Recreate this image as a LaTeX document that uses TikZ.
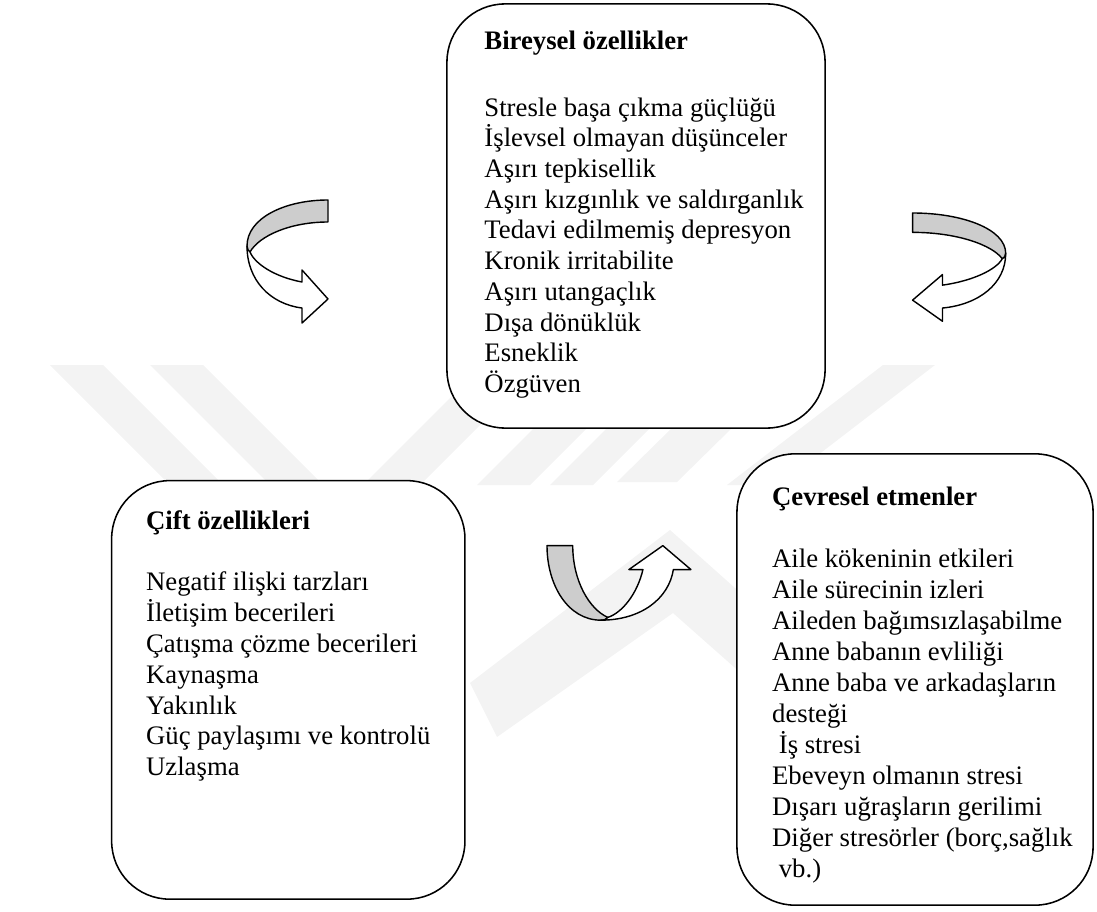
\documentclass[tikz,border=0pt]{standalone}
\usepackage{fontspec}
\setmainfont{Liberation Serif}
\usetikzlibrary{calc}
\definecolor{ribbongray}{HTML}{CDCDCD}
\definecolor{markgray}{HTML}{F3F3F3}
\tikzset{
  box/.style={draw, rectangle, rounded corners=1.45cm, line width=1.1pt, fill=white},
  head/.style={font=\fontsize{19}{22}\selectfont\bfseries, anchor=base west, inner sep=0pt},
  item/.style={font=\fontsize{19}{22}\selectfont, anchor=base west, inner sep=0pt},
  ribbon/.pic={
    \filldraw[fill=ribbongray, line width=1pt] (83,0) .. controls (40,0) and (2,18) .. (2,46)
      .. controls (2,49) and (3,51) .. (5,52) .. controls (14,36) and (45,22) .. (83,22) -- cycle;
    \filldraw[fill=white, line width=1pt] (2,46) .. controls (2,80) and (25,104) .. (57,108)
      -- (57,123) -- (83,99) -- (57,70) -- (57,82) .. controls (30,77) and (10,64) .. (5,52)
      .. controls (3,51) and (2,49) .. cycle;
  }
}
\begin{document}
\begin{tikzpicture}[x=0.025cm, y=-0.025cm, line join=round]
    \useasboundingbox (0,0) rectangle (1097,912);
    % Watermark
    \fill[markgray] (50,365) -- (103,365) -- (223,485) -- (170,485) -- cycle;
    \fill[markgray] (150,365) -- (203,365) -- (323,485) -- (270,485) -- cycle;
    \fill[markgray] (363,485) -- (420,485) -- (540,365) -- (483,365) -- cycle;
    \fill[markgray] (477,485) -- (530,485) -- (600,415) -- (547,415) -- cycle;
    \fill[markgray] (550,485) -- (593,485) -- (650,428) -- (607,428) -- cycle;
    \fill[markgray] (617,482) -- (677,482) -- (735,425) -- (675,425) -- cycle;
    \fill[markgray] (883,365) -- (935,365) -- (779,485) -- (727,485) -- cycle;
    \fill[markgray] (470,683) -- (670,530) -- (800,646) -- (760,690) -- (673,613) -- (497,737) -- cycle;

    % Nodes
    \node[box, minimum width=9.45cm, minimum height=10.6cm] (bireysel) at (636,216) {};
    \node[box, minimum width=8.83cm, minimum height=10.46cm] (cift) at (288.3,689.9) {};
    \node[box, minimum width=8.9cm, minimum height=11.28cm] (cevre) at (915,679.5) {};

    \node[head] (bireyselhead) at ($(bireysel.north west)+(38,46.7)$) {Bireysel özellikler};
    \foreach \t [count=\i from 0] in {Stresle başa çıkma güçlüğü, İşlevsel olmayan düşünceler,
        Aşırı tepkisellik, Aşırı kızgınlık ve saldırganlık, Tedavi edilmemiş depresyon,
        Kronik irritabilite, Aşırı utangaçlık, Dışa dönüklük, Esneklik, Özgüven}
      \node[item] (bireysel-\i) at ($(bireysel.north west)+(38,113+30.7*\i)$) {\t};

    \node[head] (cifthead) at ($(cift.north west)+(35,50)$) {Çift özellikleri};
    \foreach \t [count=\i from 0] in {Negatif ilişki tarzları, İletişim becerileri,
        Çatışma çözme becerileri, Kaynaşma, Yakınlık, Güç paylaşımı ve kontrolü, Uzlaşma}
      \node[item] (cift-\i) at ($(cift.north west)+(35,111)+(0,30.8*\i)$) {\t};

    \node[head] (cevrehead) at ($(cevre.north west)+(35.7,52)$) {Çevresel etmenler};
    \foreach \t [count=\i from 0] in {Aile kökeninin etkileri, Aile sürecinin izleri,
        Aileden bağımsızlaşabilme, Anne babanın evliliği, Anne baba ve arkadaşların,
        desteği, \ İş stresi, Ebeveyn olmanın stresi, Dışarı uğraşların gerilimi,
        {Diğer stresörler (borç,sağlık}, \ vb.)}
      \node[item] (cevre-\i) at ($(cevre.north west)+(35.7,114)+(0,31*\i)$) {\t};

    % Arrows
    \pic[transform shape] at (245,200) {ribbon};
    \pic[transform shape, xscale=-1.15, yscale=0.88] at (1008,213) {ribbon};
    \pic[transform shape, rotate=90, xscale=0.92, yscale=1.17] at (547,622) {ribbon};
\end{tikzpicture}
\end{document}
